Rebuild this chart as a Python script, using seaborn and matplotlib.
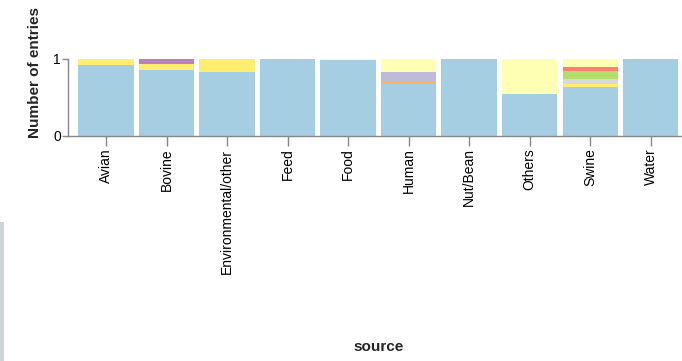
import pandas as pd
import matplotlib
matplotlib.use("Agg")
import matplotlib.pyplot as plt
import seaborn as sns
from matplotlib.patches import Rectangle

# Data (fraction of entries per source, stacked bottom -> top)
sources = ["Avian", "Bovine", "Environmental/other", "Feed", "Food",
           "Human", "Nut/Bean", "Others", "Swine", "Water"]

group_1 = [0.92, 0.86, 0.835, 1.0, 0.985, 0.67, 1.0, 0.55, 0.64, 1.0]
group_2 = [0.08, 0.08, 0.165, 0.0, 0.0, 0.0, 0.0, 0.0, 0.04, 0.0]
group_3 = [0.0, 0.0, 0.0, 0.0, 0.0, 0.0, 0.0, 0.0, 0.06, 0.0]
group_4 = [0.0, 0.0, 0.0, 0.0, 0.0, 0.0, 0.0, 0.0, 0.11, 0.0]
group_5 = [0.0, 0.0, 0.0, 0.0, 0.0, 0.05, 0.0, 0.0, 0.0, 0.0]
group_6 = [0.0, 0.0, 0.0, 0.0, 0.0, 0.0, 0.0, 0.0, 0.04, 0.0]
group_7 = [0.0, 0.0, 0.0, 0.0, 0.0, 0.11, 0.0, 0.0, 0.0, 0.0]
group_8 = [0.0, 0.06, 0.0, 0.0, 0.0, 0.0, 0.0, 0.0, 0.0, 0.0]
group_9 = [0.0, 0.0, 0.0, 0.0, 0.015, 0.17, 0.0, 0.45, 0.11, 0.0]

groups = ["group 1", "group 2", "group 3", "group 4", "group 5",
          "group 6", "group 7", "group 8", "group 9"]
values = [group_1, group_2, group_3, group_4, group_5,
          group_6, group_7, group_8, group_9]
colors = ["#a6cee3", "#ffed6f", "#d9d9d9", "#b3de69", "#fdb462",
          "#fb8072", "#bebada", "#bc80bd", "#ffffb3"]

rows = []
for g, vals in zip(groups, values):
    for s, v in zip(sources, vals):
        rows.append({"source": s, "group": g, "entries": v})
df = pd.DataFrame(rows)
df["source"] = pd.Categorical(df["source"], categories=sources, ordered=True)

sns.set_style("ticks")
plt.rcParams["font.family"] = ["Liberation Sans", "DejaVu Sans"]

fig = plt.figure(figsize=(6.82, 3.61), dpi=100)
ax = fig.add_axes([68 / 682, 1 - 136 / 361, 614 / 682, 77 / 361])

sns.histplot(data=df, x="source", hue="group", weights="entries",
             hue_order=groups[::-1], palette=dict(zip(groups, colors)),
             multiple="stack", discrete=True, shrink=0.91, alpha=1,
             linewidth=0, edgecolor="none", legend=False, ax=ax)

ax.set_xlim(-0.628, 9.52)
ax.set_ylim(0, 1)
ax.set_yticks([0, 1])
ax.set_yticklabels(["0", "1"])
ax.set_xticks(range(len(sources)))
ax.set_xticklabels(sources, rotation=90, va="top", ha="center")

sns.despine(ax=ax)
for sp in ["left", "bottom"]:
    ax.spines[sp].set_color("#888888")
    ax.spines[sp].set_linewidth(1)
ax.tick_params(axis="x", length=7.5, width=1, color="#888888", pad=1.5,
               labelsize=10, labelcolor="#000000")
ax.tick_params(axis="y", length=4, width=1, color="#888888", pad=1,
               labelsize=10, labelcolor="#000000")

ax.set_xlabel("source", fontsize=11, fontweight="bold")
ax.set_ylabel("Number of entries", fontsize=11, fontweight="bold")
ax.xaxis.set_label_coords((379 - 68) / 614, (136 - 340) / 77)
ax.yaxis.set_label_coords((42 - 68) / 614, (136 - 72) / 77)

# gray strip at the left edge of the image
fig.patches.append(Rectangle((0, 0), 4 / 682, 139 / 361, transform=fig.transFigure,
                             facecolor="#cdd5d6", edgecolor="none"))

fig.savefig("out.png", dpi=100)
